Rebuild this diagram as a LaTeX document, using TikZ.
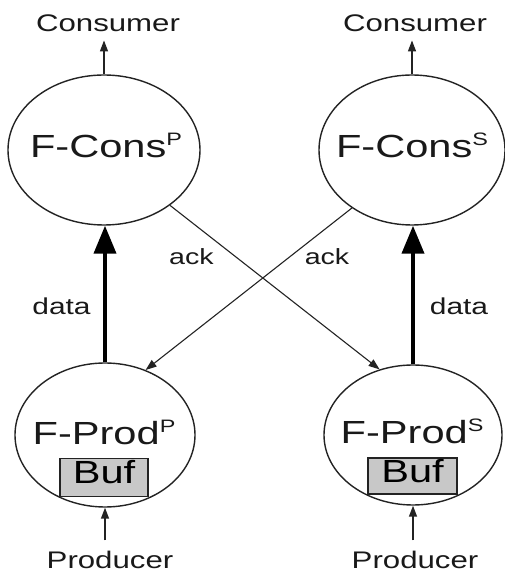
\documentclass[tikz,border=0pt]{standalone}
\usepackage{fontspec}
\setmainfont{Liberation Sans}
\usetikzlibrary{arrows.meta,shapes.geometric}
\definecolor{ink}{RGB}{35,35,35}
\definecolor{txt}{RGB}{25,25,25}
\definecolor{buffill}{RGB}{200,200,200}
% wide-set lettering used throughout the figure
\newcommand{\wide}[1]{\scalebox{1.3}[1]{#1}}
\newcommand{\fs}[1]{\fontsize{#1}{#1}\selectfont}
\newcommand{\supl}[1]{\raisebox{12pt}{\fs{18}#1}}
\begin{document}
\begin{tikzpicture}[x=1pt,y=1pt,
  proc/.style={draw=ink, line width=1.4pt, ellipse, inner sep=0pt},
  bufbox/.style={draw=ink, line width=1.4pt, fill=buffill, inner sep=0pt,
                 text height=23pt, text depth=10pt},
  lbl/.style={text=txt, inner sep=0pt, anchor=base},
  thinarrow/.style={draw=ink, line width=1.4pt, -{Triangle[length=11pt,width=8pt]}},
  ackarrow/.style={draw=ink, line width=1.1pt, -{Triangle[length=11pt,width=8pt]}},
  dataarrow/.style={draw=black, line width=4pt, -{Triangle[length=28pt,width=22pt]}}
]
\useasboundingbox (0,0) rectangle (505,573);

% consumer-side filters
\node[proc, minimum width=192pt, minimum height=150pt] (cp) at (104,423) {};
\node[proc, minimum width=186pt, minimum height=150pt] (cs) at (412,423) {};
\node[lbl] (cpt) at (106,415) {\wide{\fs{32}F-Cons\supl{P}}};
\node[lbl] (cst) at (412,415) {\wide{\fs{32}F-Cons\supl{S}}};

% producer-side filters with their buffers
\node[proc, minimum width=180pt, minimum height=144pt] (pp) at (105,138) {};
\node[proc, minimum width=178pt, minimum height=140pt] (ps) at (413,138) {};
\node[lbl] (ppt) at (104,128) {\wide{\fs{32}F-Prod\supl{P}}};
\node[lbl] (pst) at (412,129) {\wide{\fs{32}F-Prod\supl{S}}};
\node[bufbox, minimum width=88pt, minimum height=38pt] (ppb) at (104,95.5) {\wide{\fs{32}Buf}};
\node[bufbox, minimum width=89pt, minimum height=36pt] (psb) at (412.5,97) {\wide{\fs{32}Buf}};

% end points
\node[lbl] (cc) at (108,541) {\wide{\fs{24}Consumer}};
\node[lbl] (sc) at (415,541) {\wide{\fs{24}Consumer}};
\node[lbl] (pr) at (110,5) {\wide{\fs{24}Producer}};
\node[lbl] (sr) at (415,5) {\wide{\fs{24}Producer}};

% edge labels
\node[lbl] (ackl) at (191.5,308) {\wide{\fs{22}ack}};
\node[lbl] (ackr) at (327,308) {\wide{\fs{22}ack}};
\node[lbl] (datal) at (61.5,258) {\wide{\fs{23}data}};
\node[lbl] (datar) at (459,258) {\wide{\fs{23}data}};

% connectors
\draw[thinarrow, shorten >=8pt] (cp.north) -- (cp.north |- cc.south);
\draw[thinarrow, shorten >=8pt] (cs.north) -- (cs.north |- sc.south);
\draw[thinarrow, shorten <=10pt] (pp.south |- pr.north) -- (pp.south);
\draw[thinarrow, shorten <=10pt] (ps.south |- sr.north) -- (ps.south);
\draw[dataarrow] (pp.north) -- (pp.north |- cp.south);
\draw[dataarrow] (ps.north) -- (ps.north |- cs.south);
\draw[ackarrow] (cp.-40) -- (ps.117);
\draw[ackarrow] (cs.-136) -- (pp.58);
\end{tikzpicture}
\end{document}
